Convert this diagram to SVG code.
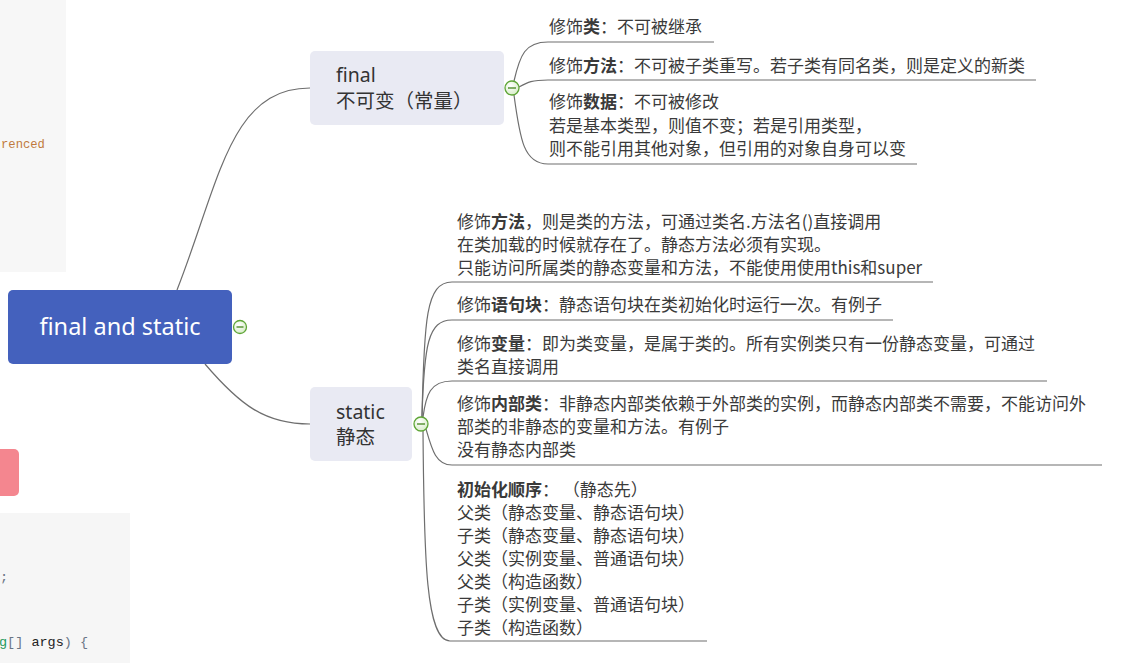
<svg xmlns="http://www.w3.org/2000/svg" width="1125" height="663" viewBox="0 0 1125 663">
<defs>
<radialGradient id="cg" cx="0.4" cy="0.35" r="0.7">
<stop offset="0" stop-color="#ffffff"/>
<stop offset="1" stop-color="#d6ecc6"/>
</radialGradient>
<style>
.bg{fill:#f7f7f7}
.root{fill:#4461bd}
.sub{fill:#e9eaf3}
.rt{font-family:"Noto Sans","Noto Sans CJK SC",sans-serif;font-size:23.5px;fill:#ffffff}
.st{font-family:"Noto Sans","Noto Sans CJK SC",sans-serif;font-size:19.5px;fill:#333333}
.ct{font-family:"Noto Sans CJK SC","Noto Sans",sans-serif;font-size:17px;fill:#3a3a3a}
.b{font-weight:bold}
.ln{fill:none;stroke:#6e6e6e;stroke-width:1.2}
.col{fill:url(#cg);stroke:#5ea536;stroke-width:1.3}
.minus{stroke:#4f8f2c;stroke-width:1.4}
.mono{font-family:"Liberation Mono","DejaVu Sans Mono",monospace}
</style>
</defs>
<g id="background">
<rect class="bg" x="0" y="0" width="66" height="272"/>
<text class="mono" x="1" y="148" font-size="12.2" fill="#c07a3c">renced</text>
<rect x="-10" y="449" width="29" height="47" rx="5" fill="#f4868f"/>
<rect x="0" y="513" width="130" height="150" fill="#f6f6f6"/>
<text class="mono" x="0" y="581" font-size="13.5" fill="#6a7585">;</text>
<text class="mono" x="-1" y="646" font-size="13.5"><tspan fill="#1f9a5c">g</tspan><tspan fill="#6a7585">[]</tspan><tspan fill="#222222"> args</tspan><tspan fill="#6a7585">) {</tspan></text>
</g>
<g id="connectors">
<path class="ln" d="M177 290 C220 180 230 88 310 88"/>
<path class="ln" d="M205 364 C240 405 265 424 310 424"/>
<path class="ln" d="M514 81 C520 55 525 42 548 42 H714"/>
<path class="ln" d="M519 87 C528 82 532 80 548 80 H1036"/>
<path class="ln" d="M514 95 C520 140 524 164 548 164 H917"/>
<path class="ln" d="M422 417 C424 320 426 282 452 282 H933"/>
<path class="ln" d="M422 417 C424 345 428 320 452 320 H893"/>
<path class="ln" d="M423 417 C426 395 430 381 452 381 H1047"/>
<path class="ln" d="M426 429 C432 450 436 465 452 465 H1102"/>
<path class="ln" d="M423 431 C424 560 426 641 450 641 H707"/>
</g>
<g id="root">
<rect class="root" x="8" y="290" width="224" height="74" rx="5"/>
<text class="rt" x="120" y="335" text-anchor="middle">final and static</text>
<circle class="col" cx="240" cy="327" r="6.5"/>
<line class="minus" x1="236.5" y1="327" x2="243.5" y2="327"/>
</g>
<g id="final">
<rect class="sub" x="310" y="51" width="194" height="74" rx="5"/>
<text class="st" x="336" y="82">final</text>
<text class="st" x="336" y="108">不可变（常量）</text>
<circle class="col" cx="512" cy="88" r="7"/>
<line class="minus" x1="508" y1="88" x2="516" y2="88"/>
</g>
<g id="static">
<rect class="sub" x="310" y="387" width="102" height="74" rx="5"/>
<text class="st" x="336" y="419">static</text>
<text class="st" x="336" y="444">静态</text>
<circle class="col" cx="421" cy="424" r="7"/>
<line class="minus" x1="417" y1="424" x2="425" y2="424"/>
</g>
<g id="final-class">
<text class="ct" x="549" y="33">修饰<tspan class="b">类</tspan>：不可被继承</text>
</g>
<g id="final-method">
<text class="ct" x="549" y="72">修饰<tspan class="b">方法</tspan>：不可被子类重写。若子类有同名类，则是定义的新类</text>
</g>
<g id="final-data">
<text class="ct" x="549" y="108">修饰<tspan class="b">数据</tspan>：不可被修改</text>
<text class="ct" x="549" y="132">若是基本类型，则值不变；若是引用类型，</text>
<text class="ct" x="549" y="155">则不能引用其他对象，但引用的对象自身可以变</text>
</g>
<g id="static-method">
<text class="ct" x="457" y="227.5">修饰<tspan class="b">方法</tspan>，则是类的方法，可通过类名.方法名()直接调用</text>
<text class="ct" x="457" y="250.5">在类加载的时候就存在了。静态方法必须有实现。</text>
<text class="ct" x="457" y="273.5">只能访问所属类的静态变量和方法，不能使用使用this和super</text>
</g>
<g id="static-block">
<text class="ct" x="457" y="311">修饰<tspan class="b">语句块</tspan>：静态语句块在类初始化时运行一次。有例子</text>
</g>
<g id="static-var">
<text class="ct" x="457" y="350">修饰<tspan class="b">变量</tspan>：即为类变量，是属于类的。所有实例类只有一份静态变量，可通过</text>
<text class="ct" x="457" y="373">类名直接调用</text>
</g>
<g id="static-inner">
<text class="ct" x="457" y="410">修饰<tspan class="b">内部类</tspan>：非静态内部类依赖于外部类的实例，而静态内部类不需要，不能访问外</text>
<text class="ct" x="457" y="433">部类的非静态的变量和方法。有例子</text>
<text class="ct" x="457" y="456">没有静态内部类</text>
</g>
<g id="static-init">
<text class="ct" x="457" y="496"><tspan class="b">初始化顺序</tspan>： （静态先）</text>
<text class="ct" x="457" y="519">父类（静态变量、静态语句块）</text>
<text class="ct" x="457" y="542">子类（静态变量、静态语句块）</text>
<text class="ct" x="457" y="565">父类（实例变量、普通语句块）</text>
<text class="ct" x="457" y="588">父类（构造函数）</text>
<text class="ct" x="457" y="611">子类（实例变量、普通语句块）</text>
<text class="ct" x="457" y="634">子类（构造函数）</text>
</g>
</svg>
